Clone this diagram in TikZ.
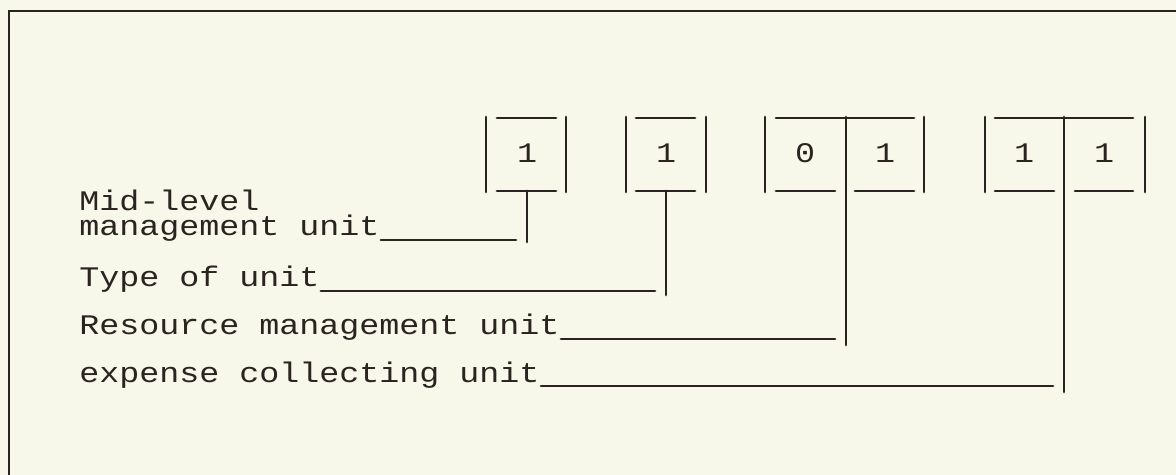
\documentclass[tikz,border=0pt]{standalone}
\usepackage{fontspec}
\usepackage{graphicx}
\usetikzlibrary{calc}
\newfontfamily\typefont{Liberation Mono}
\newcommand{\typed}[1]{\scalebox{1}[0.85]{#1}}
\definecolor{ink}{RGB}{43,35,32}
\definecolor{paper}{RGB}{247,247,234}
\begin{document}
\begin{tikzpicture}[x=0.5pt,y=-0.5pt,line cap=round,line width=1.4pt,draw=ink]
			\tikzset{every node/.style={font=\typefont\fontsize{16.67}{12.5}\selectfont,inner sep=0pt,text=ink}}
			\tikzset{lbl/.style={anchor=base west,align=left}}
			\fill[paper] (0,0) rectangle (1176,475);
			\useasboundingbox (0,0) rectangle (1176,475);
			\draw (9,475)--(9,11)--(1176,11);
			% side bars of the code boxes
			\foreach \x in {486,566,626,706,765,924,985,1145}
			\draw (\x,117)--(\x,192);
			% over- and underscores of the cells
			\foreach \a/\b in {497/556,636/695,776/914,995/1133}
			\draw (\a,118)--(\b,118);
			\foreach \a/\b in {497/556,636/695,776/835,855/914,995/1054,1075/1133}
			\draw (\a,191)--(\b,191);
			\foreach \x/\d [count=\i] in {527/1,666/1,805/0,885/1,1024/1,1104/1}
			\node (d\i) at (\x,153) {\typed{\d}};
			% stems down to the labels
			\coordinate (t1) at (527,191);
			\coordinate (t2) at (666,191);
			\coordinate (t3) at (846,117);
			\coordinate (t4) at (1064,117);
			\coordinate (f1) at (527,242);
			\coordinate (f2) at (666,295);
			\coordinate (f3) at (846,345);
			\coordinate (f4) at (1064,392);
			\foreach \i in {1,...,4}
			\draw (t\i)--(f\i);
			\node[lbl] (mgmt) at (78,236) {\typed{Mid-level}\\\typed{management unit}};
			\node[lbl] (type) at (78,287) {\typed{Type of unit}};
			\node[lbl] (rmu) at (78,335) {\typed{Resource management unit}};
			\node[lbl] (ecu) at (78,382) {\typed{expense collecting unit}};
			\foreach \n/\i in {mgmt/1,type/2,rmu/3,ecu/4}
			\draw ($(\n.base east)+(0,4)$) -- ($(\n.base east -| f\i)+(-11,4)$);
		\end{tikzpicture}
\end{document}
